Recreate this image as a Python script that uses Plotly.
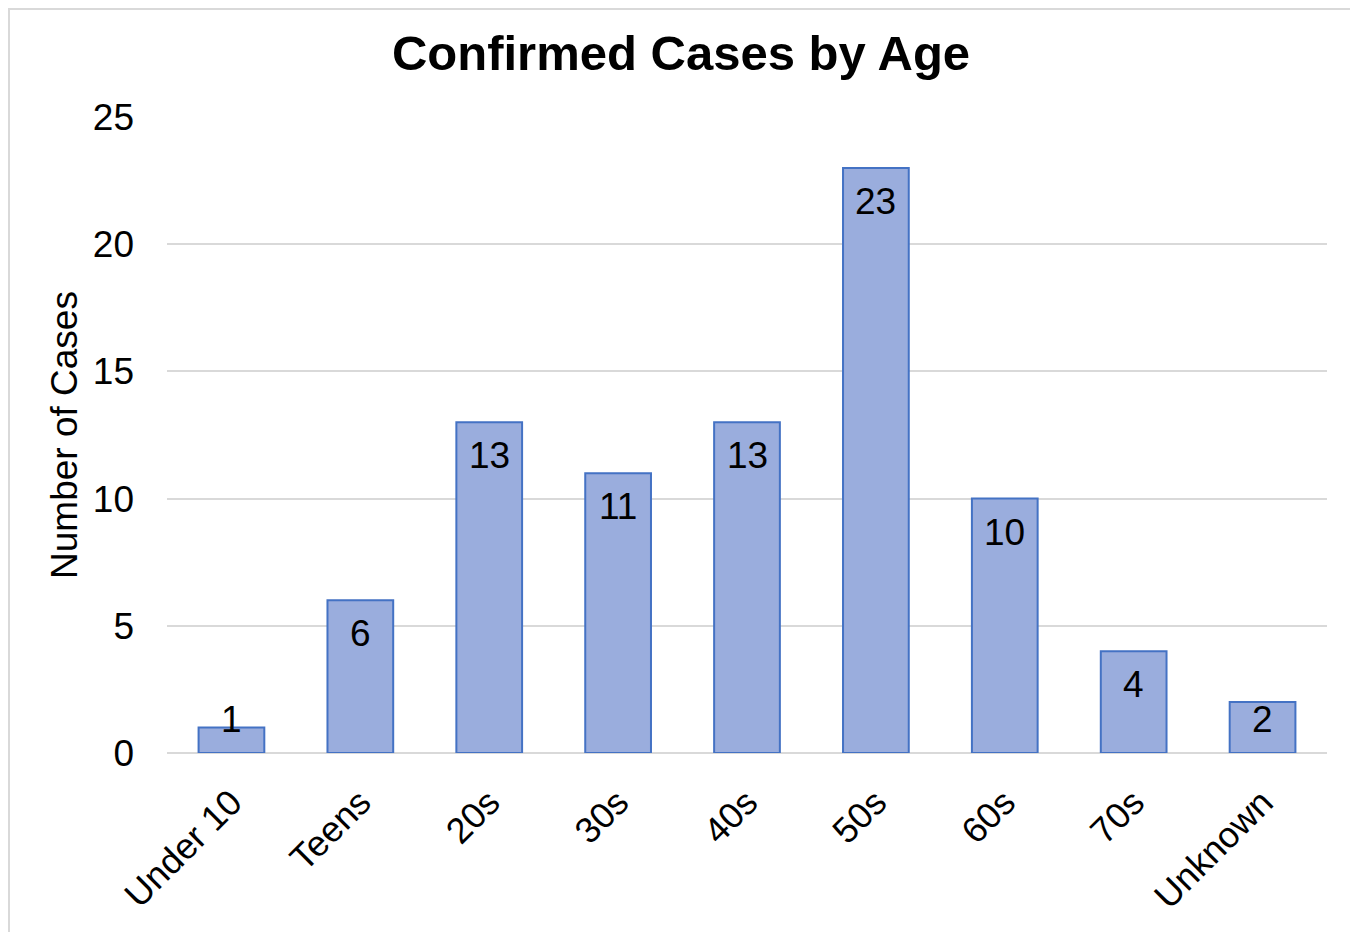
import plotly.graph_objects as go

categories = ["Under 10", "Teens", "20s", "30s", "40s", "50s", "60s", "70s", "Unknown"]
cases = [1, 6, 13, 11, 13, 23, 10, 4, 2]
y_ticks = [0, 5, 10, 15, 20, 25]

W, H = 1358, 932
M_L, M_R, M_T, M_B = 159, 39, 109, 187
Y_MAX = 25
PW, PH = W - M_L - M_R, H - M_T - M_B
px_per_unit = PH / Y_MAX
FONT = "Arial, Liberation Sans, sans-serif"
FS = 37

fig = go.Figure()
fig.add_trace(go.Bar(
    x=categories, y=cases,
    marker=dict(color="#9AADDD", line=dict(color="#4472C4", width=2)),
    hoverinfo="x+y", showlegend=False,
))

# data labels: inside end, clamped to the bar bottom for short bars
for cat, v in zip(categories, cases):
    if v * px_per_unit >= 68:
        fig.add_annotation(x=cat, y=v, yanchor="top", yshift=-11, text=str(v),
                           showarrow=False, font=dict(family=FONT, size=FS, color="#000000"))
    else:
        fig.add_annotation(x=cat, y=0, yanchor="bottom", yshift=11, text=str(v),
                           showarrow=False, font=dict(family=FONT, size=FS, color="#000000"))

# outer chart border
fig.add_shape(type="rect", xref="paper", yref="paper",
              x0=(1 - M_L) / PW, x1=(1346 - M_L) / PW,
              y0=(H - M_B - 945) / PH, y1=(H - M_B - 1) / PH,
              line=dict(color="#D9D9D9", width=2), fillcolor="rgba(0,0,0,0)", layer="below")

fig.update_layout(
    width=W, height=H,
    margin=dict(l=M_L, r=M_R, t=M_T, b=M_B),
    paper_bgcolor="white", plot_bgcolor="white",
    font=dict(family=FONT, color="#000000"),
    bargap=0.49,
    title=dict(text="<b>Confirmed Cases by Age</b>", x=(681 - 8) / W, xanchor="center",
               y=1 - 45 / H, yanchor="middle", yref="container",
               font=dict(family=FONT, size=49, color="#000000")),
    xaxis=dict(tickangle=-45, tickfont=dict(size=36, family=FONT), showgrid=False,
               showline=False, ticks="", ticklabelstandoff=20),
    yaxis=dict(range=[0, Y_MAX], tickvals=y_ticks, tickfont=dict(size=FS, family=FONT),
               showgrid=True, gridcolor="#D9D9D9", gridwidth=1.5,
               zeroline=True, zerolinecolor="#D9D9D9", zerolinewidth=2,
               showline=False, ticks="", ticklabelstandoff=32,
               title=dict(text="Number of Cases", font=dict(size=FS, family=FONT), standoff=3)),
)

fig.write_html("out.html")
